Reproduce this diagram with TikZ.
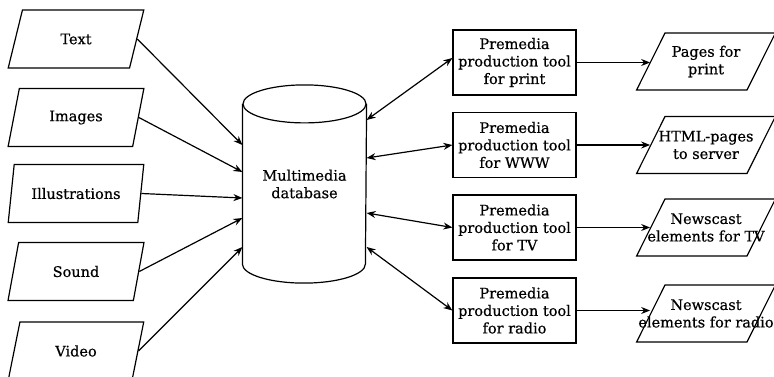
\documentclass[tikz,border=0pt]{standalone}
\usepackage{fontspec}
\setmainfont{DejaVu Serif}
\newfontfamily\diagfont{DejaVu Serif}[FakeBold=0.6]
\usetikzlibrary{shapes.geometric,arrows.meta}

\begin{document}
\begin{tikzpicture}[x=1pt,y=-1pt,
  every node/.style={font=\diagfont\fontsize{14.5}{17.5}\selectfont},
  line width=1.2pt,
  inbox/.style={draw, trapezium, trapezium left angle=69, trapezium right angle=111,
    trapezium stretches=true, minimum width=136pt, minimum height=58pt, inner sep=0pt},
  outbox/.style={draw, trapezium, trapezium left angle=64, trapezium right angle=116,
    trapezium stretches=true, minimum width=139pt, minimum height=57pt, inner sep=0pt},
  toolbox/.style={draw, rectangle, minimum width=123pt, minimum height=65pt,
    inner sep=0pt, align=center},
  arr/.style={-{Stealth[length=9pt,width=7pt]}},
  darr/.style={{Stealth[length=9pt,width=7pt]}-{Stealth[length=9pt,width=7pt]}},
  boxtext/.style={label={[align=center]center:{#1}}},
]
\clip (0,0) rectangle (774,377);

% input media
\node[inbox] (text)   at (76,39)    {Text};
\node[inbox] (images) at (76,117.5) {Images};
\node[inbox] (illus)  at (76,193.5) {Illustrations};
\node[inbox] (sound)  at (76,271.5) {Sound};
\node[inbox] (video)  at (76,351)   {Video};

% database cylinder
\node[minimum width=123pt, minimum height=159pt, inner sep=0pt, align=center]
  (db) at (304.5,184) {Multimedia\\database};
\draw (db.north west) -- (db.south west)
  arc[start angle=180, end angle=360, x radius=61.5pt, y radius=19pt]
  -- (db.north east);
\draw (db.north) ellipse[x radius=61.5pt, y radius=19pt];

% production tools
\node[toolbox] (pm1) at (514.5,62.5)  {Premedia\\production tool\\for print};
\node[toolbox] (pm2) at (514.5,145)   {Premedia\\production tool\\for WWW};
\node[toolbox] (pm3) at (514.5,227.5) {Premedia\\production tool\\for TV};
\node[toolbox] (pm4) at (514.5,310.5) {Premedia\\production tool\\for radio};

% outputs: the text may run over the slanted sides, so it sits in a label
\node[outbox, boxtext={Pages for\\print}]             (out1) at (706,61.5)  {\phantom{M}};
\node[outbox, boxtext={HTML-pages\\to server}]        (out2) at (706,145)   {\phantom{M}};
\node[outbox, boxtext={Newscast\\elements for TV}]    (out3) at (706,227.5) {\phantom{M}};
\node[outbox, boxtext={Newscast\\elements for radio}] (out4) at (706,313.5) {\phantom{M}};

% media into the database
\draw[arr] (text.east)   -- (db.west |- 0,145);
\draw[arr] (images.east) -- (db.west |- 0,172);
\draw[arr] (illus.east)  -- (db.west |- 0,198);
\draw[arr] (sound.east)  -- (db.west |- 0,218);
\draw[arr] (video.east)  -- (db.west |- 0,247);

% database <-> tools
\draw[darr] (db.east |- 0,120) -- ([yshift=4.5pt]pm1.west);
\draw[darr] (db.east |- 0,158) -- (pm2.west);
\draw[darr] (db.east |- 0,213) -- (pm3.west);
\draw[darr] (db.east |- 0,247) -- (pm4.west);

% tools to outputs
\draw[arr] (pm1.east) -- (pm1.east -| out1.west);
\draw[arr] (pm2.east) -- (pm2.east -| out2.west);
\draw[arr] (pm3.east) -- (pm3.east -| out3.west);
\draw[arr] (pm4.east) -- (pm4.east -| out4.west);
\end{tikzpicture}
\end{document}
